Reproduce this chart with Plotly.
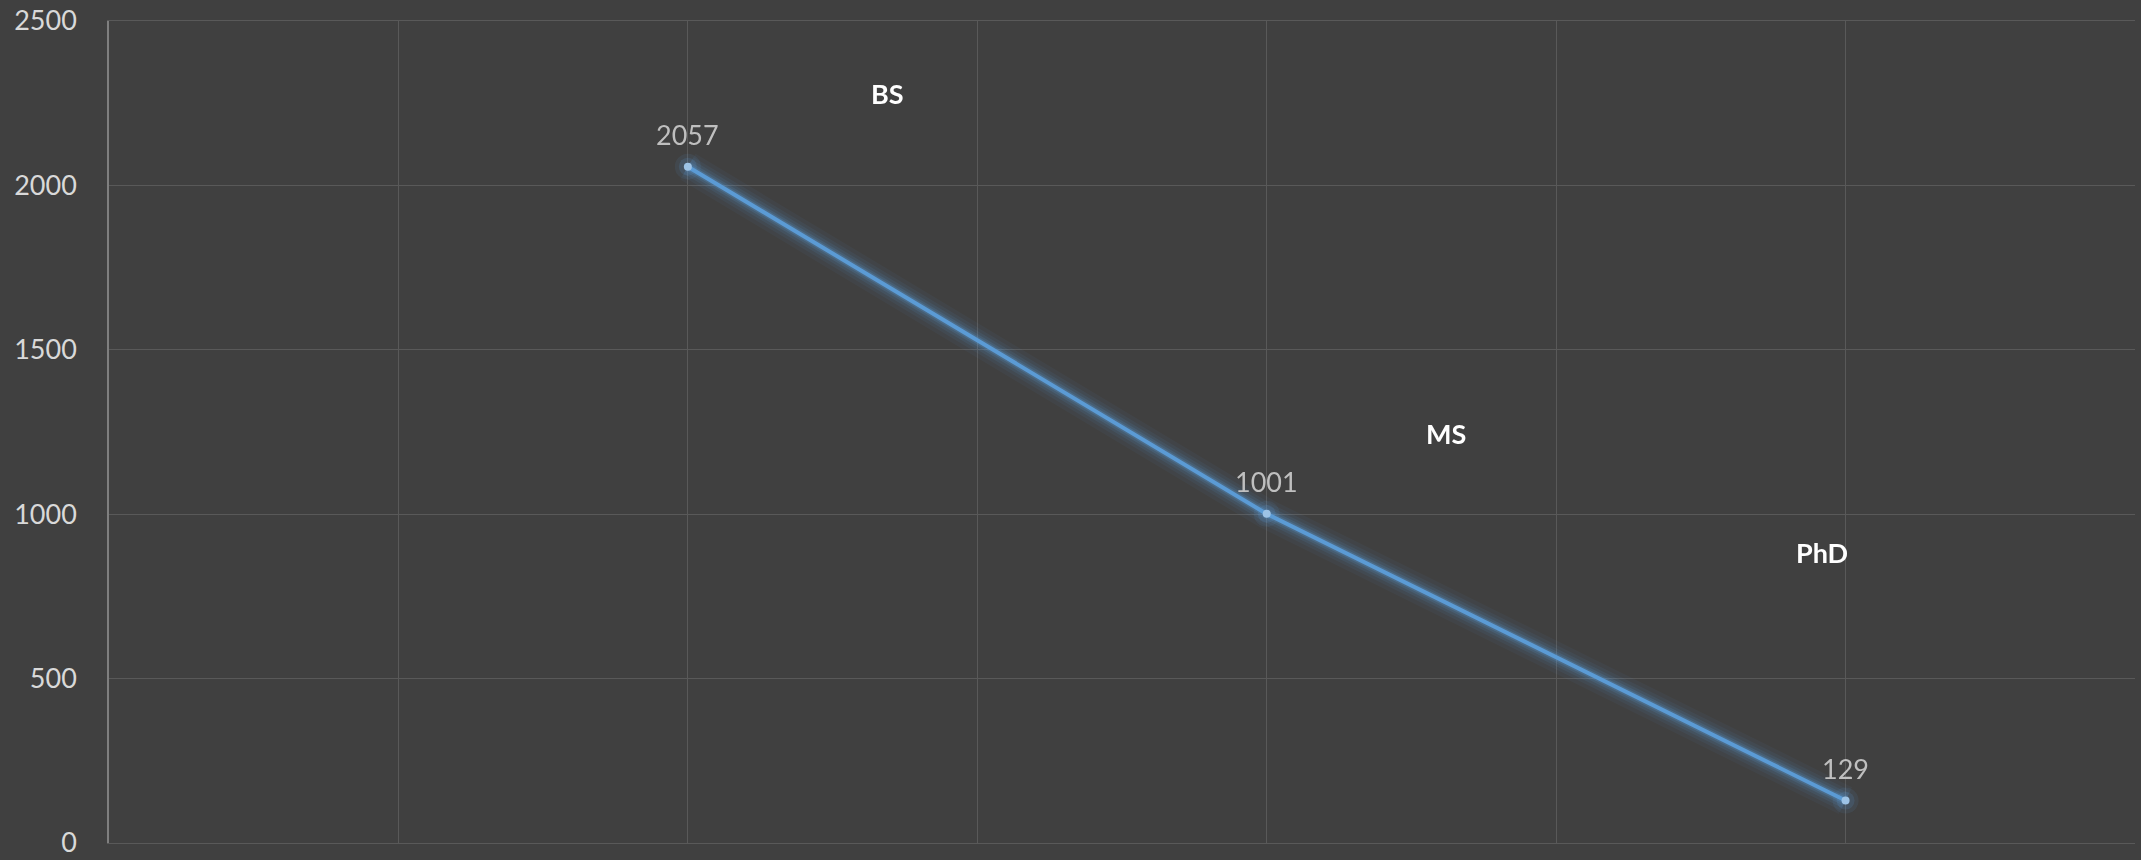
import plotly.graph_objects as go

# Data
categories = ["BS", "MS", "PhD"]
x_pos = [2, 4, 6]
values = [2057, 1001, 129]
# Category label positions (as seen in chart)
label_x = [2.69, 4.62, 5.92]
label_y = [2281, 1244, 885]

BG = "#404040"
GRID = "#595959"
LINE = "#5b9bd5"
FONT = "Lato, Open Sans, sans-serif"

fig = go.Figure()

# glow layers
for w, op in [(30, 0.05), (22, 0.07), (16, 0.10), (11, 0.15), (7, 0.25)]:
    fig.add_trace(go.Scatter(x=x_pos, y=values, mode="lines",
                             line=dict(color=LINE, width=w), opacity=op,
                             hoverinfo="skip", showlegend=False))
# glow around markers
for s, op in [(26, 0.10), (18, 0.16)]:
    fig.add_trace(go.Scatter(x=x_pos, y=values, mode="markers",
                             marker=dict(color=LINE, size=s, line=dict(width=0)),
                             opacity=op, hoverinfo="skip", showlegend=False))
# main line
fig.add_trace(go.Scatter(x=x_pos, y=values, mode="lines+markers",
                         line=dict(color=LINE, width=4),
                         marker=dict(color="#9dc3e6", size=8, line=dict(width=0)),
                         showlegend=False))

# data labels
for x, v in zip(x_pos, values):
    fig.add_annotation(x=x, y=v, text=str(v), showarrow=False, yshift=32,
                       font=dict(family=FONT, size=27, color="#bfbfbf"))

# category labels
for x, y, t in zip(label_x, label_y, categories):
    fig.add_annotation(x=x, y=y, text="<b>" + t + "</b>", showarrow=False,
                       font=dict(family=FONT, size=27, color="#ffffff"))

fig.update_layout(
    width=2141, height=860,
    paper_bgcolor=BG, plot_bgcolor=BG,
    margin=dict(l=109, r=6, t=21, b=17, autoexpand=False),
    font=dict(family=FONT, color="#d9d9d9", size=27),
    xaxis=dict(range=[0, 7], dtick=1, tick0=0, showticklabels=False,
               showgrid=True, gridcolor=GRID, gridwidth=1.3, zeroline=False,
               showline=True, linecolor=GRID, linewidth=1.3, mirror=True,
               fixedrange=True, automargin=False),
    yaxis=dict(range=[0, 2500], dtick=500, tick0=0, showgrid=True, gridcolor=GRID,
               gridwidth=1.3, zeroline=False, showline=True, linecolor="#7f7f7f",
               linewidth=1.5, ticks="", ticklabelstandoff=25, automargin=False,
               tickfont=dict(size=27, color="#d9d9d9"), fixedrange=True),
)

fig.write_html("out.html")
